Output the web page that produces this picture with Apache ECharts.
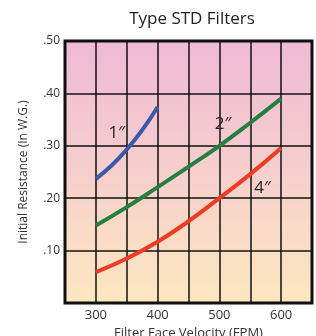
<!DOCTYPE html>
<html>
<head>
<meta charset="utf-8">
<script src="https://cdn.jsdelivr.net/npm/echarts@6/dist/echarts.min.js"></script>
<style>
  html, body { margin: 0; padding: 0; background: #fff; }
  #chart { width: 316px; height: 336px; }
</style>
</head>
<body>
<div id="chart"></div>
<script>
// values
const velocity1 = [300, 325, 350, 375, 400]
const resist1 = [0.237, 0.262, 0.293, 0.330, 0.374]
const velocity2 = [300, 350, 400, 450, 500, 550, 600]
const resist2 = [0.148, 0.183, 0.221, 0.260, 0.300, 0.344, 0.390]
const velocity4 = [300, 350, 400, 450, 500, 550, 600]
const resist4 = [0.059, 0.085, 0.117, 0.156, 0.200, 0.246, 0.296]
const curveLabels = [
  { name: '1″', coord: [334, 0.324] },
  { name: '2″', coord: [506, 0.342] },
  { name: '4″', coord: [570, 0.220] }
]

const font = "'Open Sans', sans-serif"

function pairs(xs, ys) {
  return xs.map((x, i) => [x, ys[i]])
}

function curve(xs, ys, color, label) {
  return {
    type: 'line',
    data: pairs(xs, ys),
    smooth: true,
    showSymbol: false,
    lineStyle: { color: color, width: 4 },
    markPoint: {
      symbol: 'circle',
      symbolSize: 0,
      data: [{
        coord: label.coord,
        label: {
          show: true,
          formatter: label.name,
          color: '#222',
          fontSize: 17,
          fontFamily: font
        }
      }]
    }
  }
}

const chart = echarts.init(document.getElementById('chart'))
chart.setOption({
  animation: false,
  title: {
    text: 'Type STD Filters',
    left: 187,
    top: 6,
    textAlign: 'center',
    textStyle: { fontSize: 17, fontWeight: 'normal', color: '#222', fontFamily: font }
  },
  grid: {
    left: 65,
    right: 4,
    top: 41,
    bottom: 33,
    outerBoundsMode: 'none',
    containLabel: false,
    show: true,
    borderColor: '#111',
    borderWidth: 3,
    backgroundColor: new echarts.graphic.LinearGradient(0, 0, 0, 1, [
      { offset: 0, color: '#efb9d6' },
      { offset: 0.5, color: '#f6cfcc' },
      { offset: 1, color: '#fde8c0' }
    ])
  },
  xAxis: {
    type: 'value',
    min: 250,
    max: 650,
    interval: 50,
    name: 'Filter Face Velocity (FPM)',
    nameLocation: 'middle',
    nameGap: 21,
    nameTextStyle: { fontSize: 13, color: '#333', fontFamily: font },
    axisLine: { show: false },
    axisTick: { show: false },
    axisLabel: {
      color: '#333',
      fontSize: 13,
      fontFamily: font,
      margin: 6,
      formatter: v => (v % 100 === 0 && v >= 300 && v <= 600) ? String(v) : ''
    },
    splitLine: { lineStyle: { color: '#111', width: 1.5 } }
  },
  yAxis: {
    type: 'value',
    min: 0,
    max: 0.5,
    interval: 0.1,
    name: 'Initial Resistance (In W.G.)',
    nameLocation: 'middle',
    nameGap: 35,
    nameTextStyle: { fontSize: 12, color: '#333', fontFamily: font },
    axisLine: { show: false },
    axisTick: { show: false },
    axisLabel: {
      color: '#333',
      fontSize: 12,
      fontFamily: font,
      margin: 5,
      formatter: v => v === 0 ? '' : '.' + Math.round(v * 100)
    },
    splitLine: { lineStyle: { color: '#111', width: 1.5 } }
  },
  series: [
    curve(velocity1, resist1, '#3d57a9', curveLabels[0]),
    curve(velocity2, resist2, '#23803f', curveLabels[1]),
    curve(velocity4, resist4, '#ee3b24', curveLabels[2])
  ]
})
</script>
</body>
</html>
